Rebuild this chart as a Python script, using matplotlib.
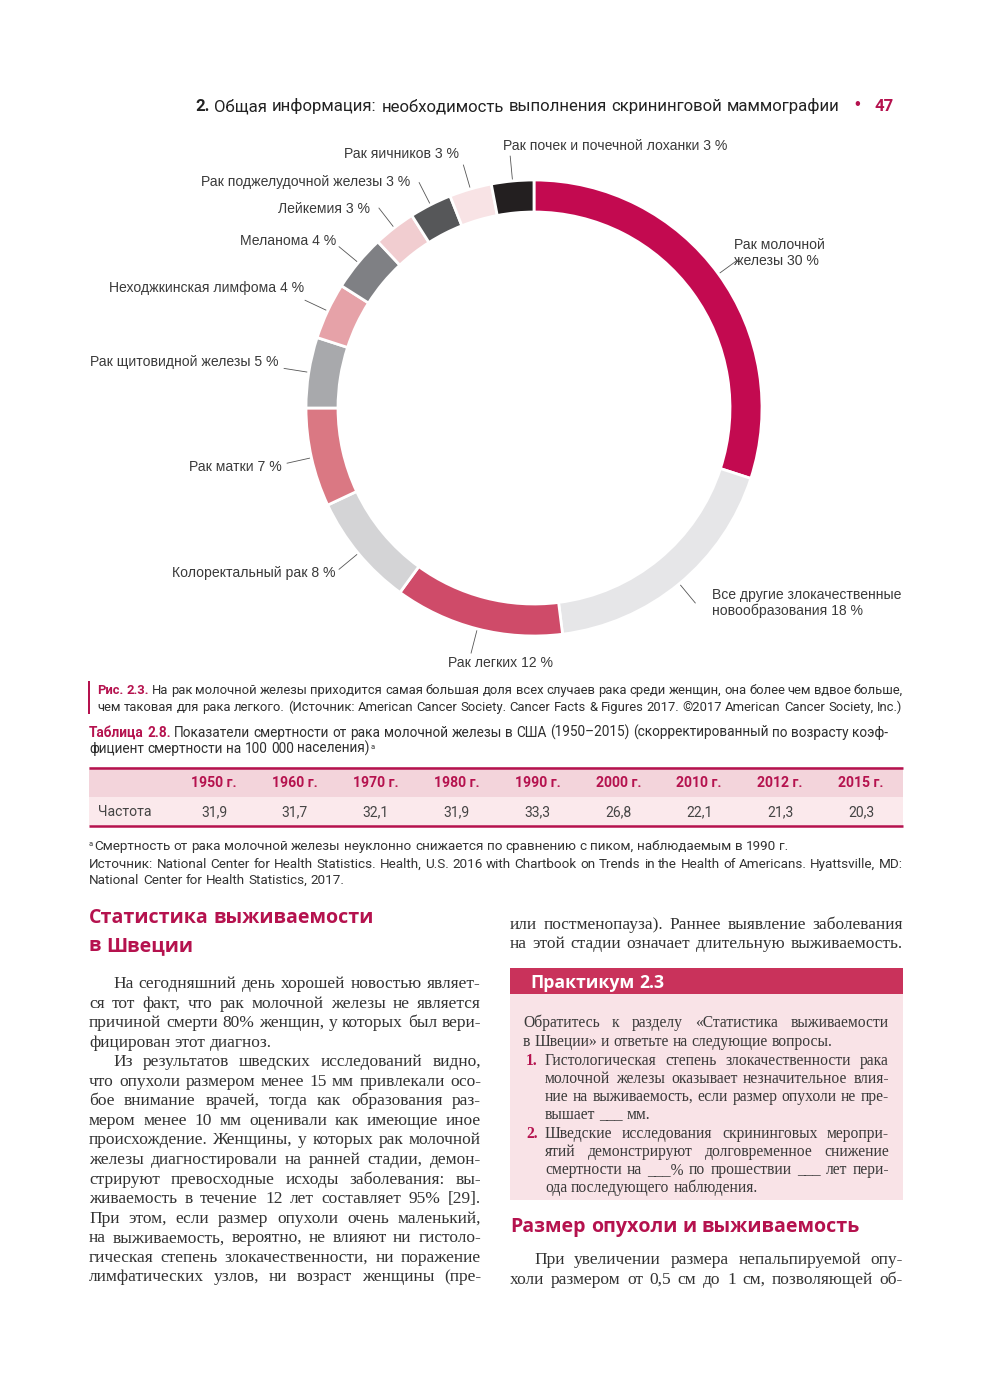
import matplotlib
matplotlib.use('Agg')
import matplotlib.pyplot as plt
from matplotlib import font_manager
from matplotlib.patches import Rectangle
import numpy as np

# ---------------- data ----------------
cancer_names = ['Рак молочной\nжелезы', 'Все другие злокачественные\nновообразования', 'Рак легких',
                'Колоректальный рак', 'Рак матки', 'Рак щитовидной железы', 'Неходжкинская лимфома',
                'Меланома', 'Лейкемия', 'Рак поджелудочной железы', 'Рак яичников',
                'Рак почек и почечной лоханки']
cancer_shares = [30, 18, 12, 8, 7, 5, 4, 4, 3, 3, 3, 3]
table_years = ['1950 г.', '1960 г.', '1970 г.', '1980 г.', '1990 г.', '2000 г.', '2010 г.', '2012 г.', '2015 г.']
mortality_rate = [31.9, 31.7, 32.1, 31.9, 33.3, 26.8, 22.1, 21.3, 20.3]
table_row_label = 'Частота'

# ---------------- styles / layout ----------------
slice_colors = ['#C30A50', '#E6E6E8', '#CF4B69', '#D4D4D6', '#DA7883', '#A8A9AC',
                '#E6A2A8', '#7F8084', '#F1CDD0', '#565759', '#F8E3E5', '#231F20']
label_layout = [(734, 253, 'left'), (712, 603, 'left'), (500, 663, 'center'), (335, 573, 'right'),
                (282, 467, 'right'), (279, 362, 'right'), (304, 288, 'right'), (336, 241, 'right'),
                (370, 209, 'right'), (410, 182, 'right'), (459, 154, 'right'), (503, 146, 'left')]

W, H = 1000, 1395
fig = plt.figure(figsize=(W / 100, H / 100), dpi=100)
ax = fig.add_axes([0, 0, 1, 1])


def lims():
    ax.set_xlim(0, W)
    ax.set_ylim(0, H)
    ax.axis('off')


lims()
REN = fig.canvas.get_renderer()


def Y(y):
    return H - y


fams = {f.name for f in font_manager.fontManager.ttflist}
COND = 'Liberation Sans Narrow' if 'Liberation Sans Narrow' in fams else 'Roboto'
SANS = 'Liberation Sans'
SERIF = 'Liberation Serif'
HEADF = 'Open Sans' if 'Open Sans' in fams else 'DejaVu Sans'

CRIM = '#B5124E'
TXT = '#2E2E2E'

_cache = {}


def tw(s, kw):
    key = (s,) + tuple(sorted(kw.items()))
    if key not in _cache:
        t = ax.text(0, 0, s, **kw)
        _cache[key] = t.get_window_extent(REN).width
        t.remove()
    return _cache[key]


def sp(kw):
    return tw('n n', kw) - tw('nn', kw)


def st(family, fs, color=TXT, weight='normal'):
    return dict(family=family, fontsize=round(float(fs), 3), color=color, fontweight=weight)


def line(x0, x1, y, runs, justify=True):
    toks = [(w, kw) for text, kw in runs for w in text.split(' ') if w]
    ws = [tw(w, kw) for w, kw in toks]
    gap = sp(runs[-1][1])
    if justify and len(toks) > 1:
        gap = (x1 - x0 - sum(ws)) / (len(toks) - 1)
    x = x0
    for (w, kw), wd in zip(toks, ws):
        ax.text(x, Y(y), w, ha='left', va='baseline', **kw)
        x += wd + gap
    return x - gap


def fit(items, kwf, fs0, slack=0.9):
    kw = kwf(fs0)
    s = sp(kw)
    best = 1e9
    for text, width in items:
        words = [w for w in text.split(' ') if w]
        nat = sum(tw(w, kw) for w in words) + slack * s * (len(words) - 1)
        best = min(best, fs0 * width / nat)
    return best


# ---------------- header ----------------
head_txt = 'Общая информация: необходимость выполнения скрининговой маммографии'
hfs = fit([('2. ' + head_txt, 645)], lambda f: st(COND, f, '#222222'), 14, slack=1.0)
line(195, 840, 111, [('2.', st(COND, hfs, '#222222', 'bold')), (head_txt, st(COND, hfs, '#222222'))])
ax.text(857, Y(105), '•', ha='center', va='center', color=CRIM, fontsize=12, family=SANS)
ax.text(884, Y(111), '47', ha='center', va='baseline', **st(COND, hfs, CRIM, 'bold'))

# ---------------- donut ----------------
cx, cy, Rr, ring = 534, Y(408), 228, 32
wedges, _ = ax.pie(cancer_shares, colors=slice_colors, startangle=90, counterclock=False,
                   center=(cx, cy), radius=Rr, frame=True,
                   wedgeprops=dict(width=ring, edgecolor='white', linewidth=2.0))
lims()
lab_kw = dict(family=SANS, fontsize=10.1, color='#3A3A3A')
for w, name, share, (lx, ly, ha) in zip(wedges, cancer_names, cancer_shares, label_layout):
    th = np.deg2rad((w.theta1 + w.theta2) / 2)
    ax.plot([cx + (Rr + 2) * np.cos(th), cx + (Rr + 25) * np.cos(th)],
            [cy + (Rr + 2) * np.sin(th), cy + (Rr + 25) * np.sin(th)], color='#555555', lw=0.6)
    ax.text(lx, Y(ly), f'{name} {share} %', ha=ha, va='center', linespacing=1.15, **lab_kw)

# ---------------- caption ----------------
ax.add_patch(Rectangle((87.5, Y(714)), 2.5, 33, color=CRIM, lw=0))
cap1 = 'На рак молочной железы приходится самая большая доля всех случаев рака среди женщин, она более чем вдвое больше,'
cap2 = 'чем таковая для рака легкого. (Источник: American Cancer Society. Cancer Facts & Figures 2017. ©2017 American Cancer Society, Inc.)'
cfs = fit([('Рис. 2.3. ' + cap1, 806)], lambda f: st(COND, f), 11, slack=1.0)
line(97, 903, 694, [('Рис. 2.3.', st(COND, cfs, CRIM, 'bold')), (cap1, st(COND, cfs))])
line(97, 903, 711, [(cap2, st(COND, cfs))], False)

tit1 = 'Показатели смертности от рака молочной железы в США (1950–2015) (скорректированный по возрасту коэф-'
tit2 = 'фициент смертности на 100 000 населения)'
tfs = fit([('Таблица 2.8. ' + tit1, 799)], lambda f: st(COND, f), 11, slack=1.0)
line(89, 888, 737, [('Таблица 2.8.', st(COND, tfs, CRIM, 'bold')), (tit1, st(COND, tfs))])
xe = line(89, 888, 753, [(tit2, st(COND, tfs))], False)
ax.text(xe + 1, Y(749), 'a', ha='left', va='baseline', **st(COND, tfs * 0.55))

# ---------------- table ----------------
ax.add_patch(Rectangle((89, Y(797)), 814, 30, fc='#F3D4DB', ec='none'))
ax.add_patch(Rectangle((89, Y(826)), 814, 29, fc='#FBE9EC', ec='none'))
ax.plot([89, 903], [Y(767.5)] * 2, color=CRIM, lw=1.8, solid_capstyle='butt')
ax.plot([89, 903], [Y(826)] * 2, color=CRIM, lw=1.8, solid_capstyle='butt')
col_x = np.linspace(214, 861, len(table_years))
for x, yr, v in zip(col_x, table_years, mortality_rate):
    ax.text(x, Y(787), yr, ha='center', va='baseline', **st(COND, tfs * 1.02, CRIM, 'bold'))
    ax.text(x, Y(816), f'{v:.1f}'.replace('.', ','), ha='center', va='baseline', **st(COND, tfs * 1.02, '#444444'))
ax.text(98, Y(816), table_row_label, ha='left', va='baseline', **st(COND, tfs * 1.02, '#444444'))

# ---------------- footnotes ----------------
fn1 = 'Смертность от рака молочной железы неуклонно снижается по сравнению с пиком, наблюдаемым в 1990 г.'
fn2 = 'Источник: National Center for Health Statistics. Health, U.S. 2016 with Chartbook on Trends in the Health of Americans. Hyattsville, MD:'
fn3 = 'National Center for Health Statistics, 2017.'
ffs = fit([(fn2, 814)], lambda f: st(COND, f, '#333333'), 10.5, slack=1.0)
ax.text(89, Y(846), 'a', ha='left', va='baseline', **st(COND, ffs * 0.55, '#333333'))
line(94, 903, 850, [(fn1, st(COND, ffs, '#333333'))], False)
line(89, 903, 868, [(fn2, st(COND, ffs, '#333333'))])
line(89, 903, 884, [(fn3, st(COND, ffs, '#333333'))], False)

# ---------------- headings ----------------
hd = fit([('Статистика выживаемости', 286)], lambda f: st(HEADF, f, CRIM, 'bold'), 15, slack=1.0)
line(89, 375, 923, [('Статистика выживаемости', st(HEADF, hd, CRIM, 'bold'))], False)
line(89, 375, 951, [('в Швеции', st(HEADF, hd, CRIM, 'bold'))], False)
line(510, 903, 1232, [('Размер опухоли и выживаемость', st(HEADF, hd, CRIM, 'bold'))], False)

# ---------------- body text ----------------
left_lines = [
    ('На сегодняшний день хорошей новостью являет-', True, 113),
    ('ся тот факт, что рак молочной железы не является', True, 89),
    ('причиной смерти 80% женщин, у которых был вери-', True, 89),
    ('фицирован этот диагноз.', False, 89),
    ('Из результатов шведских исследований видно,', True, 113),
    ('что опухоли размером менее 15 мм привлекали осо-', True, 89),
    ('бое внимание врачей, тогда как образования раз-', True, 89),
    ('мером менее 10 мм оценивали как имеющие иное', True, 89),
    ('происхождение. Женщины, у которых рак молочной', True, 89),
    ('железы диагностировали на ранней стадии, демон-', True, 89),
    ('стрируют превосходные исходы заболевания: вы-', True, 89),
    ('живаемость в течение 12 лет составляет 95% [29].', True, 89),
    ('При этом, если размер опухоли очень маленький,', True, 89),
    ('на выживаемость, вероятно, не влияют ни гистоло-', True, 89),
    ('гическая степень злокачественности, ни поражение', True, 89),
    ('лимфатических узлов, ни возраст женщины (пре-', True, 89),
]
right_top = [
    ('или постменопауза). Раннее выявление заболевания', True, 510),
    ('на этой стадии означает длительную выживаемость.', True, 510),
]
right_bottom = [
    ('При увеличении размера непальпируемой опу-', True, 534),
    ('холи размером от 0,5 см до 1 см, позволяющей об-', True, 510),
]
BODY = '#333333'
bfs = 0.985 * fit([(t, (481 if x < 500 else 903) - x) for t, j, x in left_lines + right_top + right_bottom if j],
                  lambda f: st(SERIF, f, BODY), 12, slack=0.85)
for i, (t, j, x) in enumerate(left_lines):
    line(x, 481, 988 + 19.55 * i, [(t, st(SERIF, bfs, BODY))], j)
for i, (t, j, x) in enumerate(right_top):
    line(x, 903, 929 + 19.5 * i, [(t, st(SERIF, bfs, BODY))], j)
for i, (t, j, x) in enumerate(right_bottom):
    line(x, 903, 1264 + 19.6 * i, [(t, st(SERIF, bfs, BODY))], j)

# ---------------- practicum box ----------------
ax.add_patch(Rectangle((510, Y(994)), 393, 26, fc='#C9325B', ec='none'))
ax.add_patch(Rectangle((510, Y(1200)), 393, 206, fc='#F9E3E7', ec='none'))
pfs = fit([('Практикум 2.3', 133)], lambda f: st(HEADF, f, 'white', 'bold'), 13, slack=1.0)
line(530, 663, 988, [('Практикум 2.3', st(HEADF, pfs, 'white', 'bold'))], False)

box_lines = [
    ('Обратитесь к разделу «Статистика выживаемости', True, 523, None),
    ('в Швеции» и ответьте на следующие вопросы.', False, 523, None),
    ('Гистологическая степень злокачественности рака', True, 545, '1.'),
    ('молочной железы оказывает незначительное влия-', True, 545, None),
    ('ние на выживаемость, если размер опухоли не пре-', True, 545, None),
    ('вышает ___ мм.', False, 545, None),
    ('Шведские исследования скрининговых меропри-', True, 545, '2.'),
    ('ятий демонстрируют долговременное снижение', True, 545, None),
    ('смертности на ___% по прошествии ___ лет пери-', True, 545, None),
    ('ода последующего наблюдения.', False, 545, None),
]
BOXT = '#3A3A3A'
xfs = 0.985 * fit([(t, 889 - x) for t, j, x, n in box_lines if j], lambda f: st(SERIF, f, BOXT), 12, slack=0.85)
box_y = [1027, 1046, 1065, 1083, 1101, 1119, 1138, 1156, 1174, 1192]
for (t, j, x, n), yy in zip(box_lines, box_y):
    line(x, 889, yy, [(t, st(SERIF, xfs, BOXT))], j)
    if n:
        ax.text(526, Y(yy), n, ha='left', va='baseline', **st(SERIF, xfs, CRIM, 'bold'))

lims()
fig.savefig('out.png', dpi=100, facecolor='white')
